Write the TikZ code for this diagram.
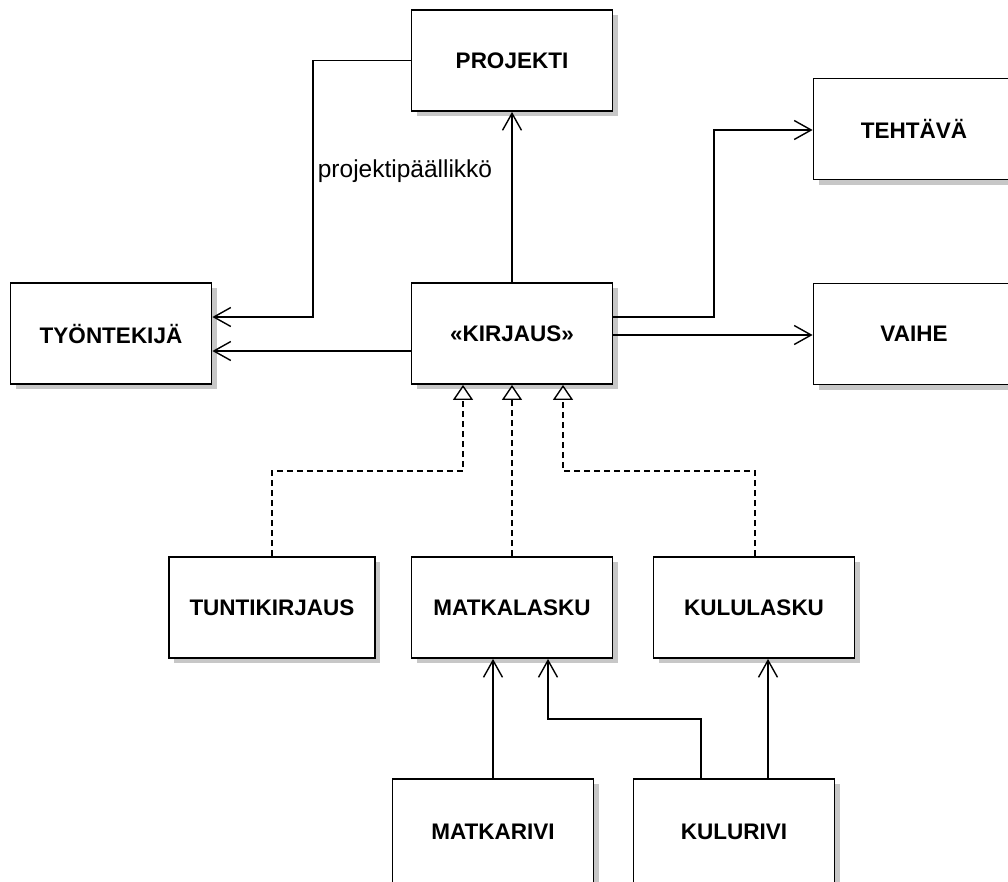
\documentclass[tikz,border=0pt]{standalone}
\usepackage{fontspec}
\setmainfont{Liberation Sans}
\usetikzlibrary{arrows.meta,shadows}

\tikzset{
  classbox/.style={draw, line width=1.8pt, fill=white,
    minimum width=201pt, minimum height=101pt, inner sep=0pt,
    font=\bfseries\fontsize{22.5}{26}\selectfont,
    drop shadow={shadow xshift=5pt, shadow yshift=-5pt, fill=black!22, opacity=1}},
  assoc/.style={line width=1.8pt, -{Straight Barb[length=17pt,width=19pt,line width=1.4pt]}},
  realize/.style={line width=1.8pt, dash pattern=on 6pt off 4pt,
    -{Triangle[length=15pt,width=20pt,fill=white,line width=1.4pt]}},
  rolelabel/.style={font=\fontsize{24.5}{28}\selectfont}
}

\begin{document}
\begin{tikzpicture}[x=1pt,y=-1pt]
\useasboundingbox (0,0) rectangle (1008,881);
\clip (0,0) rectangle (1008,881);
\fill[white] (0,0) rectangle (1008,881);

% classes
\node[classbox] (projekti)   at (512,60.5)  {PROJEKTI};
\node[classbox] (tehtava)    at (914,129)   {TEHTÄVÄ};
\node[classbox] (tyontekija) at (111,333.5) {TYÖNTEKIJÄ};
\node[classbox] (kirjaus)    at (512,333.5) {«KIRJAUS»};
\node[classbox] (vaihe)      at (914,334)   {VAIHE};
\node[classbox, minimum width=206pt] (tunti) at (272,607.5) {TUNTIKIRJAUS};
\node[classbox] (matkalasku) at (512,607.5) {MATKALASKU};
\node[classbox] (kululasku)  at (754,607.5) {KULULASKU};
\node[classbox, minimum height=106pt] (matkarivi) at (493,832) {MATKARIVI};
\node[classbox, minimum height=106pt] (kulurivi)  at (734,832) {KULURIVI};

% bend points
\coordinate (pmbend) at (313,317);
\coordinate (tbend)  at (714,130);
\coordinate (ttbend) at (272,471);
\coordinate (ktbend) at (755,471);
\coordinate (krbend) at (701,719);

% associations
\draw[assoc] (projekti.west) -| (pmbend) -- (tyontekija.east |- pmbend);
\node[rolelabel] (pmlabel) at (405,171) {projektipäällikkö};
\draw[assoc] (kirjaus.west |- 0,351) -- (tyontekija.east |- 0,351);
\draw[assoc] (kirjaus.north) -- (projekti.south);
\draw[assoc] (kirjaus.east |- 0,317) -| (tbend) -- (tehtava.west |- tbend);
\draw[assoc] (kirjaus.east |- 0,335) -- (vaihe.west |- 0,335);
\draw[assoc] (matkarivi.north) -- (matkalasku.south -| matkarivi.north);
\draw[assoc] (kulurivi.north -| krbend) -- (krbend) -| (matkalasku.south -| 548,0);
\draw[assoc] (kulurivi.north -| 768,0) -- (kululasku.south -| 768,0);

% realizations of the interface
\draw[realize] (tunti.north) -- (ttbend) -| (kirjaus.south -| 463,0);
\draw[realize] (matkalasku.north) -- (kirjaus.south);
\draw[realize] (kululasku.north -| ktbend) -- (ktbend) -| (kirjaus.south -| 563,0);
\end{tikzpicture}
\end{document}
